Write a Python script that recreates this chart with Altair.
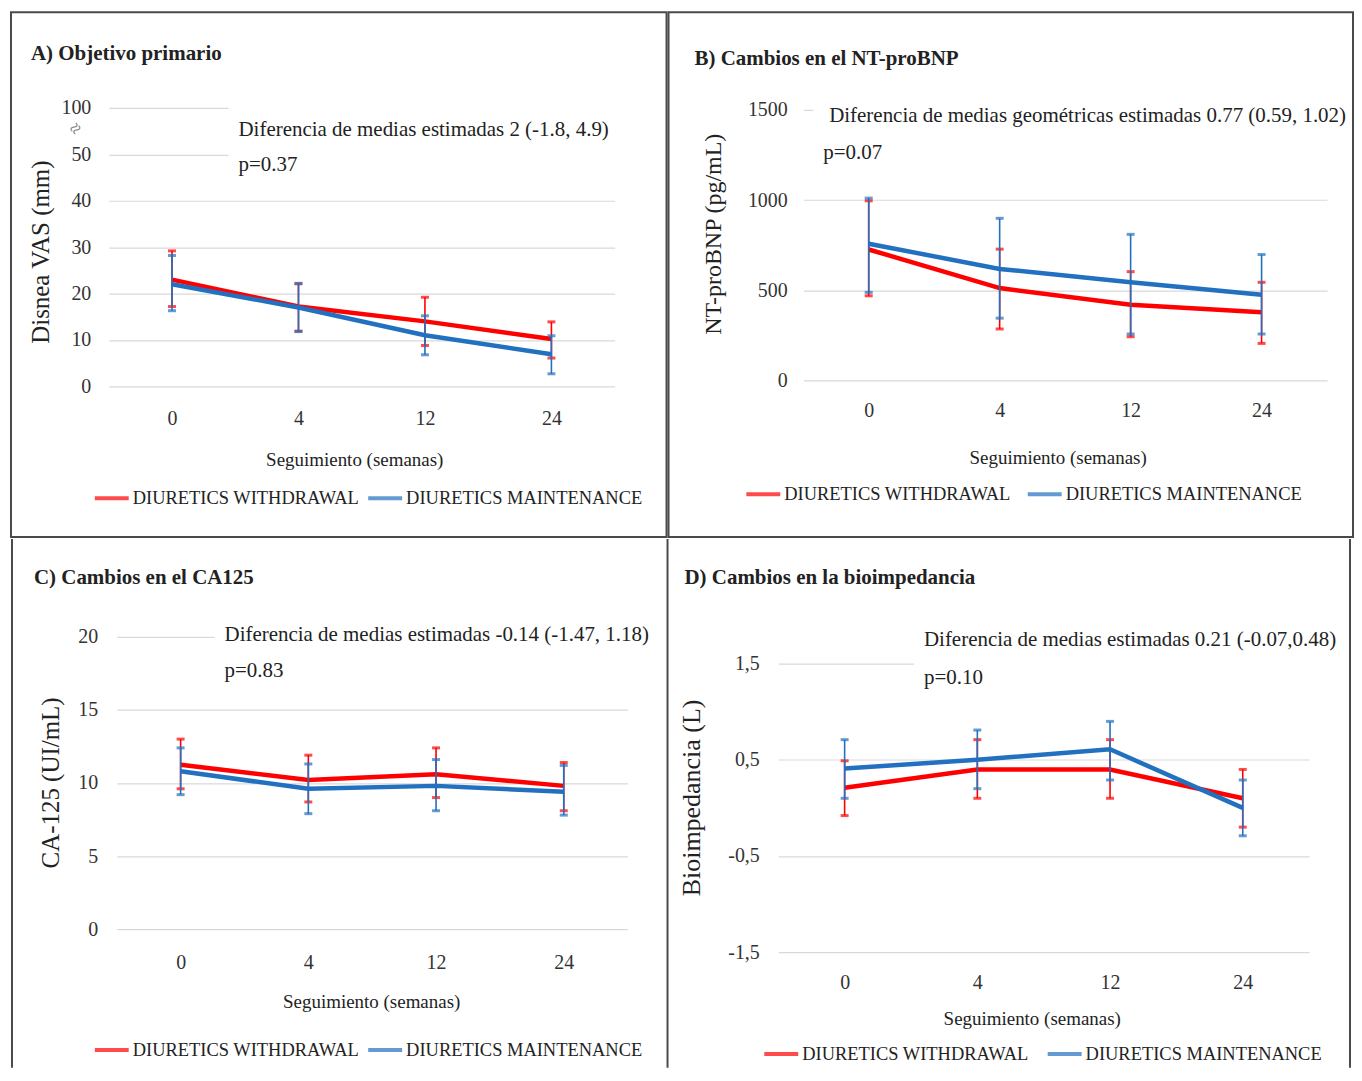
import altair as alt
import pandas as pd

WEEKS = ["0", "4", "12", "24"]
SERIES = ["DIURETICS WITHDRAWAL", "DIURETICS MAINTENANCE"]
COLORS = ["#FF0000", "#2270C0"]
FONT = "Liberation Serif"

# Panel A: Disnea VAS (mm)
a_w_mean = [23.0, 17.2, 14.0, 10.2]
a_w_lo = [17.2, 11.9, 8.8, 6.1]
a_w_hi = [29.2, 22.1, 19.2, 13.9]
a_m_mean = [22.0, 17.0, 11.0, 6.9]
a_m_lo = [16.3, 11.8, 6.8, 2.7]
a_m_hi = [28.2, 22.2, 15.2, 10.9]

# Panel B: NT-proBNP (pg/mL)
b_w_mean = [726, 512, 419, 378]
b_w_lo = [469, 285, 242, 205]
b_w_hi = [996, 728, 603, 544]
b_m_mean = [758, 618, 544, 475]
b_m_lo = [488, 345, 257, 257]
b_m_hi = [1011, 899, 810, 698]

# Panel C: CA-125 (UI/mL)
c_w_mean = [11.25, 10.2, 10.6, 9.8]
c_w_lo = [9.6, 8.7, 9.0, 8.1]
c_w_hi = [13.0, 11.9, 12.4, 11.4]
c_m_mean = [10.8, 9.6, 9.8, 9.4]
c_m_lo = [9.2, 7.9, 8.1, 7.8]
c_m_hi = [12.4, 11.3, 11.6, 11.2]

# Panel D: Bioimpedancia (L)
d_w_mean = [0.21, 0.40, 0.40, 0.10]
d_w_lo = [-0.08, 0.10, 0.10, -0.20]
d_w_hi = [0.49, 0.71, 0.71, 0.40]
d_m_mean = [0.41, 0.50, 0.61, 0.00]
d_m_lo = [0.10, 0.20, 0.29, -0.29]
d_m_hi = [0.71, 0.81, 0.90, 0.29]

A_TICKS = [0, 10, 20, 30, 40, 50, 60]
B_TICKS = [0, 500, 1000, 1500]
C_TICKS = [0, 5, 10, 15, 20]
D_TICKS = [-1.5, -0.5, 0.5, 1.5]

BORDER = "#4a4a4a"


def make_df(w, m):
    rows = []
    for s, (mean, lo, hi) in zip(SERIES, [w, m]):
        for wk, a, b, c in zip(WEEKS, mean, lo, hi):
            rows.append({"week": wk, "series": s, "mean": a, "lo": b, "hi": c})
    return pd.DataFrame(rows)


def text_layer(t, x, y, size, weight="normal", align="left", angle=0, color="#222"):
    return alt.Chart(pd.DataFrame({"t": [t]})).mark_text(
        align=align, baseline="middle", font=FONT, fontSize=size,
        fontWeight=weight, angle=angle, color=color
    ).encode(x=alt.value(x), y=alt.value(y), text="t:N")


def vline(x, H):
    return alt.Chart(pd.DataFrame({"k": [0]})).mark_rule(
        color=BORDER, strokeWidth=2).encode(
        x=alt.value(x), y=alt.value(0), y2=alt.value(H))


def panel(df, c):
    W, H = c["W"], c["H"]
    xr, yr = c["xr"], c["yr"]
    xenc = alt.X(
        "week:N", sort=WEEKS, title="Seguimiento (semanas)",
        scale=alt.Scale(type="point", padding=0.5, range=xr),
        axis=alt.Axis(
            orient="bottom", offset=-(H - yr[0]), labelAngle=0, domain=False,
            ticks=False, grid=False, labelPadding=c["xlp"], labelFontSize=20,
            labelFont=FONT, labelColor="#333",
            titleX=c["xt"][0], titleY=c["xt"][1], titleBaseline="middle",
            titleAlign="center", titleFontSize=19, titleFontWeight="normal",
            titleFont=FONT, titleColor="#222",
        ),
    )
    yscale = alt.Scale(domain=c["ydom"], range=yr, nice=False, zero=False)
    yaxis = alt.Axis(
        orient="left", offset=-xr[0], values=c["yticks"], labelExpr=c["lexpr"],
        domain=False, ticks=False, grid=True, gridColor="#D9D9D9", gridWidth=1.2,
        labelPadding=c["ylp"], labelFontSize=20, labelFont=FONT, labelColor="#333",
        title=c["ytitle"], titleX=c["yt"][0], titleY=c["yt"][1], titleAngle=270,
        titleBaseline="middle", titleAlign="center", titleFontSize=c["ytsize"],
        titleFontWeight="normal", titleFont=FONT, titleColor="#222",
    )
    color = alt.Color(
        "series:N", scale=alt.Scale(domain=SERIES, range=COLORS),
        legend=alt.Legend(
            orient="none", legendX=c["leg"][0], legendY=c["leg"][1],
            direction="horizontal", title=None, symbolType="stroke",
            symbolStrokeWidth=4, symbolSize=1156, labelFontSize=18.5,
            labelFont=FONT, labelColor="#222", labelOffset=2,
            columnPadding=c["cp"], labelLimit=0,
        ),
    )

    layers = []
    bx = c["box"]
    layers.append(
        alt.Chart(pd.DataFrame({"k": [0]})).mark_rect(color="white").encode(
            x=alt.value(bx[0]), x2=alt.value(bx[1]),
            y=alt.value(bx[2]), y2=alt.value(bx[3]))
    )
    for s in SERIES:
        base = alt.Chart(df[df.series == s]).encode(x=xenc, color=color)
        layers.append(base.mark_rule(strokeWidth=1.6).encode(
            y=alt.Y("lo:Q", scale=yscale, axis=yaxis), y2="hi:Q"))
        layers.append(base.mark_tick(size=8, thickness=3, orient="horizontal").encode(
            y=alt.Y("lo:Q", scale=yscale, axis=yaxis)))
        layers.append(base.mark_tick(size=8, thickness=3, orient="horizontal").encode(
            y=alt.Y("hi:Q", scale=yscale, axis=yaxis)))
        layers.append(base.mark_line(strokeWidth=4.5).encode(
            y=alt.Y("mean:Q", scale=yscale, axis=yaxis)))

    layers.append(text_layer(c["title"], c["tpos"][0], c["tpos"][1], 21, "bold"))
    layers.append(text_layer(c["ann1"], c["a1"][0], c["a1"][1], 21))
    layers.append(text_layer(c["ann2"], c["a2"][0], c["a2"][1], 21))
    for extra in c.get("extra", []):
        layers.append(extra)
    return alt.layer(*layers).properties(width=W, height=H)


H_TOP = 526
H_BOT = 530
W_LEFT = 657
W_RIGHT = 686

pA = panel(make_df((a_w_mean, a_w_lo, a_w_hi), (a_m_mean, a_m_lo, a_m_hi)), dict(
    W=W_LEFT, H=H_TOP, xr=[98, 605], yr=[375, 96], ydom=[0, 60], yticks=A_TICKS,
    lexpr="datum.value == 60 ? '100' : datum.label",
    xlp=22, xt=[344, 73], ylp=18, ytitle="Disnea VAS (mm)", yt=[-68, 240], ytsize=25,
    leg=[82, 468], cp=0, box=[218, 608, 88, 170],
    title="A) Objetivo primario", tpos=[20, 42],
    ann1="Diferencia de medias estimadas 2 (-1.8, 4.9)", a1=[228, 118],
    ann2="p=0.37", a2=[228, 153],
    extra=[text_layer("≈", 65, 117, 20, angle=315, align="center", color="#777")],
))

pB = panel(make_df((b_w_mean, b_w_lo, b_w_hi), (b_m_mean, b_m_lo, b_m_hi)), dict(
    W=W_RIGHT, H=H_TOP, xr=[135, 660], yr=[369, 98], ydom=[0, 1500], yticks=B_TICKS,
    lexpr="'' + datum.value",
    xlp=20, xt=[390, 77], ylp=16, ytitle="NT-proBNP  (pg/mL)", yt=[-90, 222], ytsize=24,
    leg=[76, 464], cp=8, box=[145, 684, 84, 162],
    title="B) Cambios en el NT-proBNP", tpos=[26, 47],
    ann1="Diferencia de medias geométricas estimadas  0.77 (0.59, 1.02)", a1=[161, 104],
    ann2="p=0.07", a2=[155, 141],
))

pC = panel(make_df((c_w_mean, c_w_lo, c_w_hi), (c_m_mean, c_m_lo, c_m_hi)), dict(
    W=W_LEFT, H=H_BOT, xr=[106, 618], yr=[391, 98], ydom=[0, 20], yticks=C_TICKS,
    lexpr="datum.label",
    xlp=23, xt=[361, 73], ylp=19, ytitle="CA-125 (UI/mL)", yt=[-66, 244], ytsize=25,
    leg=[82, 493], cp=0, box=[204, 645, 80, 150],
    title="C) Cambios en el CA125", tpos=[23, 39],
    ann1="Diferencia de medias estimadas -0.14 (-1.47, 1.18)", a1=[214, 96],
    ann2="p=0.83", a2=[214, 132],
    extra=[vline(1, H_BOT)],
)).properties(view=alt.ViewBackground(stroke=None))

pD = panel(make_df((d_w_mean, d_w_lo, d_w_hi), (d_m_mean, d_m_lo, d_m_hi)), dict(
    W=W_RIGHT, H=H_BOT, xr=[112, 644], yr=[414, 125], ydom=[-1.5, 1.5], yticks=D_TICKS,
    lexpr="(datum.value < 0 ? '-' : '') + replace(format(abs(datum.value), '.1f'), '.', ',')",
    xlp=21, xt=[366, 67], ylp=19, ytitle="Bioimpedancia (L)", yt=[-87, 259], ytsize=26,
    leg=[96, 497], cp=10, box=[248, 684, 84, 158],
    title="D) Cambios en la bioimpedancia", tpos=[18, 39],
    ann1="Diferencia de medias estimadas 0.21 (-0.07,0.48)", a1=[258, 101],
    ann2="p=0.10", a2=[258, 139],
    extra=[vline(1, H_BOT), vline(W_RIGHT - 1, H_BOT)],
)).properties(view=alt.ViewBackground(stroke=None))

top = alt.hconcat(pA, pB, spacing=0).resolve_scale(color="independent").resolve_legend(color="independent")
bot = alt.hconcat(pC, pD, spacing=0).resolve_scale(color="independent").resolve_legend(color="independent")
chart = alt.vconcat(top, bot, spacing=0).resolve_scale(
    color="independent").resolve_legend(color="independent").properties(
    padding={"left": 2, "top": 2, "right": 0, "bottom": 0}
).configure_view(stroke=BORDER, strokeWidth=2).configure_concat(spacing=0)

chart.save("out.html", embed_options={"renderer": "svg", "actions": False})
